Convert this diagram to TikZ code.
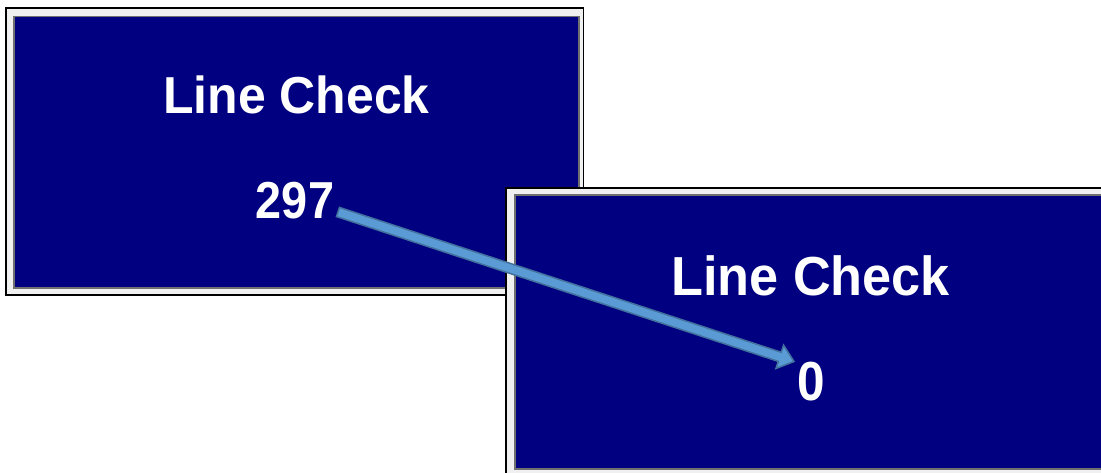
\documentclass[tikz,border=0pt]{standalone}
\usepackage{fontspec}
\setmainfont{Liberation Sans}
\usetikzlibrary{calc}
\definecolor{navybg}{RGB}{0,0,128}
\definecolor{framegray}{RGB}{240,240,240}
\definecolor{shadegray}{RGB}{112,112,112}
\definecolor{arrowfill}{RGB}{91,155,213}
\definecolor{arrowline}{RGB}{65,113,156}
\tikzset{
  lblone/.style={text=white, font=\bfseries\fontsize{52}{60}\selectfont, anchor=base, inner sep=0pt},
  lbltwo/.style={text=white, font=\bfseries\fontsize{55}{62}\selectfont, anchor=base, inner sep=0pt},
  outerframe/.style={fill=black},
  lightframe/.style={fill=framegray},
  shadeframe/.style={fill=shadegray},
  panelbg/.style={fill=navybg},
  bigarrow/.style={draw=arrowline, fill=arrowfill, line width=1.5pt, line join=miter}
}
\begin{document}
\begin{tikzpicture}[x=1pt,y=-1pt]
\useasboundingbox (0,0) rectangle (1101,472);
\clip (0,0) rectangle (1101,472);
% panel 1
\path[outerframe] (5,7.3) rectangle (584.3,296);
\path[lightframe] (7,8.7) rectangle (582.7,293.5);
\path[shadeframe] (13,15.7) rectangle (580,288.7);
\path[panelbg] (15,17.3) rectangle (578.3,286.7);
\node[lblone] (t1) at (296.5,113) {\scalebox{0.96}[1]{Line Check}};
\node[lblone] (n1) at (295,218) {\scalebox{0.9}[1]{297}};
% panel 2
\path[outerframe] (505,186.7) rectangle (1120,490);
\path[lightframe] (507.3,188.7) rectangle (1118,488);
\path[shadeframe] (514,194) rectangle (1116,470);
\path[panelbg] (516,196) rectangle (1114,468.3);
\node[lbltwo] (t2) at (810.5,295) {\scalebox{0.95}[1]{Line Check}};
\node[lbltwo] (n2) at (811,400) {\scalebox{0.9}[1]{0}};
% arrow
\coordinate (a) at (338,212);
\coordinate (b) at (794,361.5);
\coordinate (nk) at ($(b)!15pt!(a)$);
\path[bigarrow]
  ($(a)!4.8pt!90:(b)$) -- ($(nk)!4.8pt!90:(b)$) -- ($(nk)!12.3pt!90:(b)$) -- (b)
  -- ($(nk)!12.3pt!-90:(b)$) -- ($(nk)!4.8pt!-90:(b)$) -- ($(a)!4.8pt!-90:(b)$) -- cycle;
\end{tikzpicture}
\end{document}
